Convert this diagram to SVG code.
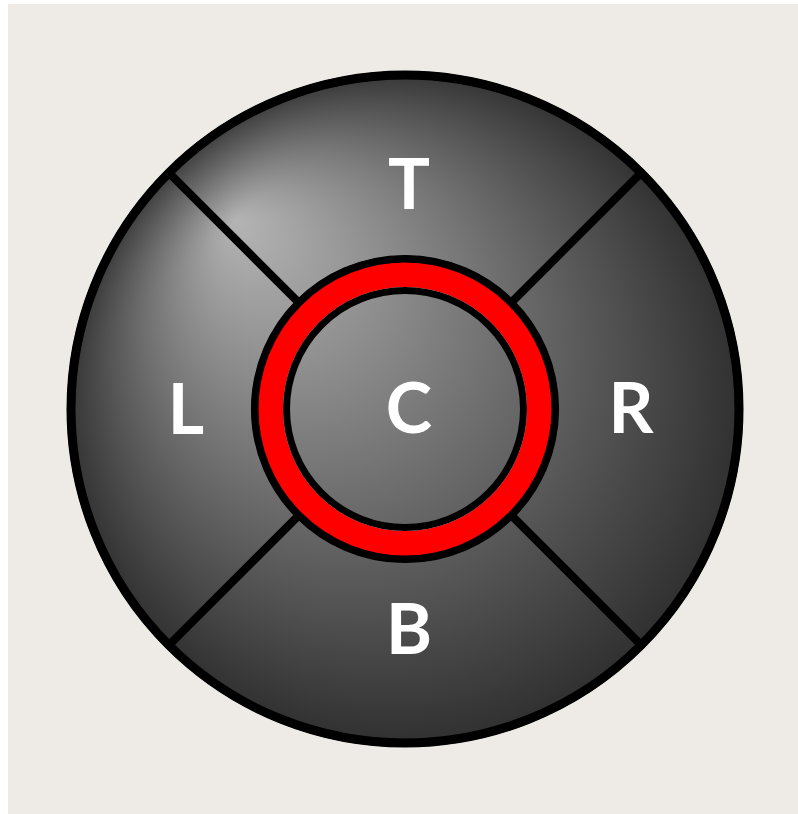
<svg xmlns="http://www.w3.org/2000/svg" width="798" height="814" viewBox="0 0 798 814">
  <defs>
    <radialGradient id="shade" gradientUnits="userSpaceOnUse" cx="405" cy="409" r="345" fx="235" fy="220">
      <stop offset="0" stop-color="#b4b4b4"/>
      <stop offset="1" stop-color="#2e2e2e"/>
    </radialGradient>
  </defs>
  <style>
    .seg { fill: url(#shade); stroke: #000; stroke-width: 8; stroke-linejoin: round; }
    .lbl { fill: #fff; font-family: Lato, "Open Sans", "Liberation Sans", sans-serif; font-weight: bold; font-size: 70px; text-anchor: middle; }
  </style>
  <rect x="0" y="0" width="798" height="814" fill="#ffffff"/>
  <rect x="8" y="4" width="790" height="810" fill="#eeebe7"/>

  <g id="T">
    <path class="seg" d="M168.8,172.8 A334,334 0 0 1 641.2,172.8 L511.1,302.9 A150,150 0 0 0 298.9,302.9 Z"/>
    <text class="lbl" x="409" y="209">T</text>
  </g>
  <g id="R">
    <path class="seg" d="M641.2,172.8 A334,334 0 0 1 641.2,645.2 L511.1,515.1 A150,150 0 0 0 511.1,302.9 Z"/>
    <text class="lbl" x="631" y="433">R</text>
  </g>
  <g id="B">
    <path class="seg" d="M641.2,645.2 A334,334 0 0 1 168.8,645.2 L298.9,515.1 A150,150 0 0 0 511.1,515.1 Z"/>
    <text class="lbl" x="409" y="654">B</text>
  </g>
  <g id="L">
    <path class="seg" d="M168.8,645.2 A334,334 0 0 1 168.8,172.8 L298.9,302.9 A150,150 0 0 0 298.9,515.1 Z"/>
    <text class="lbl" x="186" y="434">L</text>
  </g>
  <g id="outline">
    <circle cx="405" cy="409" r="334" fill="none" stroke="#000" stroke-width="9"/>
  </g>
  <g id="C">
    <circle cx="405" cy="409" r="118" fill="url(#shade)"/>
    <circle cx="405" cy="409" r="134.5" fill="none" stroke="#ff0000" stroke-width="25"/>
    <circle cx="405" cy="409" r="150" fill="none" stroke="#000" stroke-width="7"/>
    <circle cx="405" cy="409" r="118.5" fill="none" stroke="#000" stroke-width="7"/>
    <text class="lbl" x="409" y="433">C</text>
  </g>
</svg>
